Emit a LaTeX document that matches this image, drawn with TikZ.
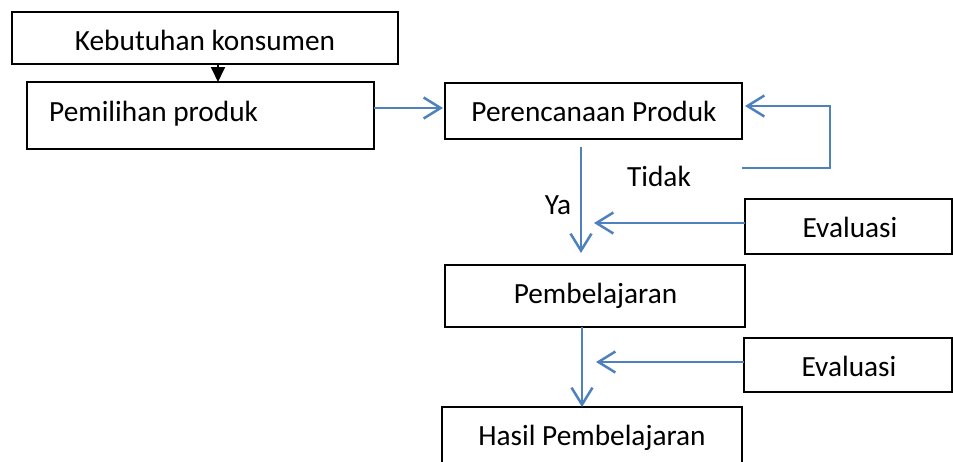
\documentclass[tikz,border=0pt]{standalone}
\usepackage{fontspec}
\setmainfont{Carlito}
\usetikzlibrary{arrows.meta}
\definecolor{flowblue}{HTML}{4F81BD}
\begin{document}
\begin{tikzpicture}[x=1pt,y=-1pt,
  box/.style={draw=black, line width=1.8pt, rectangle, inner sep=0pt, outer sep=0pt},
  txt/.style={inner sep=0pt, font=\fontsize{29.3}{33}\selectfont, anchor=base},
  flow/.style={draw=flowblue, line width=2.5pt,
    -{Straight Barb[length=17pt, width=21pt, line width=2.5pt]}},
  blackflow/.style={draw=black, line width=1.8pt,
    -{Triangle[length=15pt, width=14pt]}}]
\clip (0,0) rectangle (953,461);

% boxes
\node[box, minimum width=386pt, minimum height=52pt] (keb) at (205,38) {};
\node[box, minimum width=347pt, minimum height=67pt] (pem) at (200.5,115.5) {};
\node[box, minimum width=297pt, minimum height=56pt] (ren) at (593.5,111) {};
\node[box, minimum width=207pt, minimum height=55pt] (eva1) at (848.5,226.5) {};
\node[box, minimum width=300pt, minimum height=62pt] (bel) at (595,296) {};
\node[box, minimum width=208pt, minimum height=54pt] (eva2) at (848,365) {};
\node[box, minimum width=300pt, minimum height=73pt] (has) at (592,443.5) {};

% texts
\node[txt] (tkeb) at (205,50) {Kebutuhan konsumen};
\node[txt, anchor=base west] (tpem) at (49,121) {Pemilihan produk};
\node[txt] (tren) at (594,121) {Perencanaan Produk};
\node[txt] (tidak) at (659,186) {Tidak};
\node[txt] (ya) at (558,214) {Ya};
\node[txt] (teva1) at (850,237) {Evaluasi};
\node[txt] (tbel) at (595.5,303) {Pembelajaran};
\node[txt] (teva2) at (849,376) {Evaluasi};
\node[txt] (thas) at (592,445) {Hasil Pembelajaran};

% connector ends
\coordinate (kebout) at (218,64);
\coordinate (pemout) at (374,108);
\coordinate (renin) at (443,108);
\coordinate (renout) at (581,147);
\coordinate (belin) at (581,253);
\coordinate (loopa) at (742,168);
\coordinate (loopb) at (830,168);
\coordinate (loopc) at (830,106);
\coordinate (loopin) at (745,106);
\coordinate (eva1in) at (594,223);
\coordinate (eva2in) at (596,362);
\coordinate (belout) at (582,327);
\coordinate (hasin) at (582,407);

% connectors
\draw[blackflow] (kebout) -- (kebout |- pem.north);
\draw[flow] (pemout) -- (renin);
\draw[flow] (renout) -- (belin);
\draw[flow] (loopa) -- (loopb) -- (loopc) -- (loopin);
\draw[flow] (eva1.west |- eva1in) -- (eva1in);
\draw[flow] (belout) -- (hasin);
\draw[flow] (eva2.west |- eva2in) -- (eva2in);
\end{tikzpicture}
\end{document}
